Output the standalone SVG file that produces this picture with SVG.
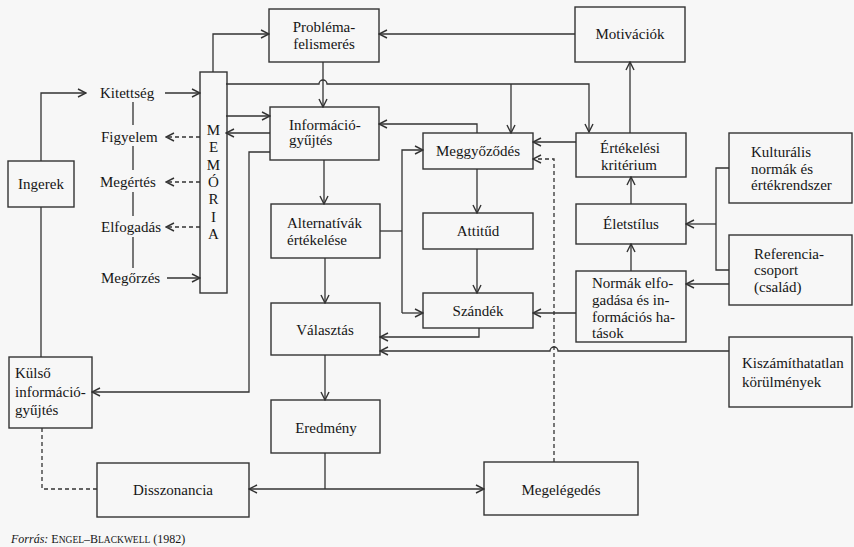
<svg xmlns="http://www.w3.org/2000/svg" width="854" height="547" viewBox="0 0 854 547" font-family="Liberation Serif, serif">
<defs>
<marker id="a" viewBox="-9 -5 10 10" refX="0" refY="0" markerWidth="10" markerHeight="10" markerUnits="userSpaceOnUse" orient="auto"><path d="M-8,-4 L0,0 L-8,4" fill="none" stroke="#333" stroke-width="1.4"/></marker>
</defs>
<style>
.b{fill:none;stroke:#333;stroke-width:1.4}
.l{fill:none;stroke:#333;stroke-width:1.3}
.d{fill:none;stroke:#333;stroke-width:1.3;stroke-dasharray:4 3}
.ar{marker-end:url(#a)}
text{font-family:'Liberation Serif',serif;font-size:15px;fill:#151515}
.c{text-anchor:middle}
</style>
<rect x="0" y="0" width="854" height="547" fill="#f7f7f7"/>

<g id="connectors">
<path class="l ar" d="M41,161 V93 H86"/>
<path class="l" d="M41,207 V357"/>
<path class="l ar" d="M165,93 H200"/>
<path class="l ar" d="M167,278 H200"/>
<path class="d ar" d="M200,137 H166"/>
<path class="d ar" d="M200,182 H166"/>
<path class="d ar" d="M200,227 H166"/>
<path class="l" d="M133,102 V125 M133,146 V170 M133,192 V216 M133,237 V268"/>
<path class="l ar" d="M213,72 V34 H269"/>
<path class="l ar" d="M575,34 H379"/>
<path class="l ar" d="M226,84 H319 A4,4 0 0 1 327,84 H589 V132"/>
<path class="l ar" d="M511,84 V133"/>
<path class="l ar" d="M323,62 V107"/>
<path class="l ar" d="M226,116 H270"/>
<path class="l ar" d="M270,133 H226"/>
<path class="l ar" d="M270,152 H249 V392 H92"/>
<path class="l ar" d="M477,133 V124 H379"/>
<path class="l ar" d="M324,160 V204"/>
<path class="l ar" d="M325,258 V303"/>
<path class="l ar" d="M325,355 V400"/>
<path class="l" d="M380,231 H402"/>
<path class="l ar" d="M402,313 V150 H423"/>
<path class="l ar" d="M402,313 H423"/>
<path class="l ar" d="M477,169 V213"/>
<path class="l ar" d="M477,249 V293"/>
<path class="l ar" d="M479,328 V337 H380"/>
<path class="l ar" d="M729,351 H558 A4,4 0 0 0 550,351 H380"/>
<path class="l ar" d="M576,142 H533"/>
<path class="d ar" d="M554,462 V159 H533"/>
<path class="l ar" d="M576,313 H533"/>
<path class="l ar" d="M630,133 V62"/>
<path class="l ar" d="M631,204 V177"/>
<path class="l ar" d="M631,271 V244"/>
<path class="l" d="M729,168 H716 V270 H729"/>
<path class="l ar" d="M716,224 H686"/>
<path class="l ar" d="M729,284 H686"/>
<path class="l" d="M325,453 V489"/>
<path class="l ar" d="M325,489 H249"/>
<path class="l ar" d="M325,489 H484"/>
<path class="d" d="M42,428 V489 H97"/>
</g>

<g id="ingerek"><rect class="b" x="8" y="161" width="66" height="46"/><text class="c" x="41" y="189">Ingerek</text></g>
<g id="kitettseg"><text x="100" y="98">Kitettség</text></g>
<g id="figyelem"><text x="101" y="142">Figyelem</text></g>
<g id="megertes"><text x="100" y="187">Megértés</text></g>
<g id="elfogadas"><text x="101" y="232">Elfogadás</text></g>
<g id="megorzes"><text x="101" y="283">Megőrzés</text></g>
<g id="memoria"><rect class="b" x="200" y="72" width="27" height="221"/>
<text class="c" x="213.5" y="135">M</text><text class="c" x="213.5" y="152.3">E</text><text class="c" x="213.5" y="169.7">M</text><text class="c" x="213.5" y="187">Ó</text><text class="c" x="213.5" y="204.3">R</text><text class="c" x="213.5" y="221.7">I</text><text class="c" x="213.5" y="239">A</text></g>
<g id="problemafelismeres"><rect class="b" x="269" y="9" width="110" height="53"/><text class="c" x="324" y="32">Probléma-</text><text class="c" x="324" y="49">felismerés</text></g>
<g id="informaciogyujtes"><rect class="b" x="270" y="107" width="109" height="53"/><text x="289" y="130">Információ-</text><text x="289" y="145">gyűjtés</text></g>
<g id="alternativak"><rect class="b" x="271" y="204" width="109" height="54"/><text x="287" y="228">Alternatívák</text><text x="287" y="245">értékelése</text></g>
<g id="valasztas"><rect class="b" x="271" y="303" width="109" height="52"/><text class="c" x="325" y="335">Választás</text></g>
<g id="eredmeny"><rect class="b" x="271" y="400" width="109" height="53"/><text class="c" x="326" y="433">Eredmény</text></g>
<g id="meggyozodes"><rect class="b" x="423" y="133" width="110" height="36"/><text class="c" x="478" y="156">Meggyőződés</text></g>
<g id="attitud"><rect class="b" x="423" y="213" width="110" height="36"/><text class="c" x="478" y="236">Attitűd</text></g>
<g id="szandek"><rect class="b" x="423" y="293" width="110" height="35"/><text class="c" x="478" y="316">Szándék</text></g>
<g id="motivaciok"><rect class="b" x="575" y="7" width="110" height="55"/><text class="c" x="630" y="39">Motivációk</text></g>
<g id="ertekelesi"><rect class="b" x="576" y="133" width="110" height="44"/><text class="c" x="630" y="153">Értékelési</text><text class="c" x="629" y="170">kritérium</text></g>
<g id="eletstilus"><rect class="b" x="576" y="204" width="110" height="40"/><text class="c" x="631" y="229">Életstílus</text></g>
<g id="normak"><rect class="b" x="576" y="271" width="110" height="71"/><text x="592" y="288">Normák elfo-</text><text x="592" y="305">gadása és in-</text><text x="592" y="322">formációs ha-</text><text x="592" y="338">tások</text></g>
<g id="kulturalis"><rect class="b" x="729" y="133" width="123" height="70"/><text x="751" y="157">Kulturális</text><text x="751" y="174">normák és</text><text x="751" y="190">értékrendszer</text></g>
<g id="referencia"><rect class="b" x="729" y="235" width="123" height="70"/><text x="754" y="259">Referencia-</text><text x="754" y="275">csoport</text><text x="754" y="292">(család)</text></g>
<g id="kiszamithatatlan"><rect class="b" x="729" y="337" width="123" height="70"/><text x="742" y="368">Kiszámíthatatlan</text><text x="742" y="387">körülmények</text></g>
<g id="kulso"><rect class="b" x="9" y="357" width="83" height="71"/><text x="15" y="378">Külső</text><text x="15" y="397">információ-</text><text x="15" y="415">gyűjtés</text></g>
<g id="disszonancia"><rect class="b" x="97" y="463" width="152" height="54"/><text class="c" x="173" y="495">Disszonancia</text></g>
<g id="megelegedes"><rect class="b" x="484" y="462" width="154" height="53"/><text class="c" x="561" y="495">Megelégedés</text></g>
<text x="11" y="543" style="font-size:12px"><tspan font-style="italic">Forrás:</tspan> E<tspan style="font-size:9.5px">NGEL</tspan>–B<tspan style="font-size:9.5px">LACKWELL</tspan> (1982)</text>
</svg>
